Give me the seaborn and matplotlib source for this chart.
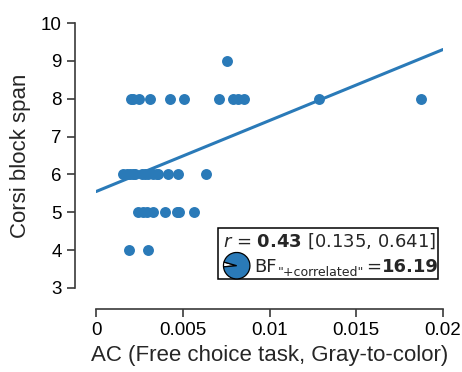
import numpy as np
import pandas as pd
import matplotlib
matplotlib.use("Agg")
import matplotlib.pyplot as plt
import seaborn as sns
from matplotlib.patches import Rectangle

# Datos (AC vs Corsi block span)
ac_span8 = [0.0020, 0.00215, 0.0025, 0.0031, 0.00427, 0.0051, 0.0071, 0.0079,
            0.0082, 0.00853, 0.01288, 0.01875]
ac_span9 = [0.00755]
ac_span6 = [0.00157, 0.00177, 0.00196, 0.00212, 0.00225, 0.00263, 0.00282,
            0.00301, 0.0033, 0.0035, 0.00359, 0.00417, 0.00474, 0.00632]
ac_span5 = [0.00244, 0.00273, 0.00292, 0.0033, 0.00398, 0.00465, 0.0048, 0.00567]
ac_span4 = [0.00192, 0.00301]

x_ticks = [0, 0.005, 0.01, 0.015, 0.02]
x_ticklabels = ["0", "0.005", "0.01", "0.015", "0.02"]
y_ticks = [3, 4, 5, 6, 7, 8, 9, 10]

r_value = 0.43
ci_low, ci_high = 0.135, 0.641
bf_value = 16.19

ac = ac_span8 + ac_span9 + ac_span6 + ac_span5 + ac_span4
corsi = ([8] * len(ac_span8) + [9] * len(ac_span9) + [6] * len(ac_span6)
         + [5] * len(ac_span5) + [4] * len(ac_span4))
df = pd.DataFrame({"ac": ac, "corsi": corsi})
print("r =", np.corrcoef(df["ac"], df["corsi"])[0, 1])

sns.set_style("ticks")
plt.rcParams["font.family"] = ["Liberation Sans", "DejaVu Sans"]
plt.rcParams["mathtext.fontset"] = "dejavusans"

AZUL = "#2a7ab8"
GRIS = "#3a3a3a"
W, H = 462, 372

fig = plt.figure(figsize=(4.62, 3.72), dpi=100)
ax = fig.add_axes([96 / W, 1 - 288 / H, 347 / W, 265 / H])
# limites antes del regplot para que la recta cubra todo el eje x
ax.set_xlim(0, 0.02)
ax.set_ylim(3, 10)

sns.regplot(data=df, x="ac", y="corsi", ax=ax, ci=None, truncate=False,
            scatter_kws={"s": 62, "color": AZUL, "alpha": 1, "linewidths": 0},
            line_kws={"color": AZUL, "lw": 2.2})

ax.set_xlim(0, 0.02)
ax.set_ylim(3, 10)
ax.set_xticks(x_ticks)
ax.set_xticklabels(x_ticklabels)
ax.set_yticks(y_ticks)
ax.tick_params(labelsize=13.5, length=6, width=1.2, color=GRIS, labelcolor="black")
ax.set_xlabel("AC (Free choice task, Gray-to-color)", fontsize=16, labelpad=4)
ax.set_ylabel("Corsi block span", fontsize=16, labelpad=7)
sns.despine(ax=ax, offset=15, trim=True)
for lado in ["left", "bottom"]:
    ax.spines[lado].set_color(GRIS)
    ax.spines[lado].set_linewidth(1.2)

# Recuadro con r y BF
caja = Rectangle((218 / W, 1 - 279 / H), 220 / W, 51 / H,
                 transform=fig.transFigure, facecolor="white",
                 edgecolor="black", linewidth=1.1, zorder=5)
fig.patches.append(caja)
fig.text(223 / W, 1 - 247 / H,
         r"$r$ = $\mathbf{0.43}$ " + f"[{ci_low}, {ci_high}]",
         fontsize=13, family="DejaVu Sans", va="baseline", ha="left", zorder=6)

# BF con subindice armado por partes
renderer = fig.canvas.get_renderer()
base_y = 1 - 272 / H
t_bf = fig.text(254 / W, base_y, "BF", fontsize=13, family="DejaVu Sans",
                va="baseline", ha="left", zorder=6)
x_px = t_bf.get_window_extent(renderer).x1
t_sub = fig.text(x_px / W + 0.002, base_y - 4 / H, '"+correlated"', fontsize=9,
                 family="DejaVu Sans", va="baseline", ha="left", zorder=6)
x_px = t_sub.get_window_extent(renderer).x1
t_eq = fig.text(x_px / W + 0.006, base_y, "=", fontsize=13, family="DejaVu Sans",
                va="baseline", ha="left", zorder=6)
x_px = t_eq.get_window_extent(renderer).x1
fig.text(x_px / W, base_y, f"{bf_value}", fontsize=13, family="DejaVu Sans",
         fontweight="bold", va="baseline", ha="left", zorder=6)

ax_pie = fig.add_axes([(236.7 - 13.5) / W, 1 - (265.7 + 13.5) / H, 27 / W, 27 / H])
p_nula = 1 / (1 + bf_value)
ax_pie.pie([p_nula, 1 - p_nula], colors=["white", AZUL], startangle=164,
           wedgeprops={"edgecolor": "black", "linewidth": 0.9})
ax_pie.set_xlim(-1.02, 1.02)
ax_pie.set_ylim(-1.02, 1.02)
ax_pie.set_aspect("equal")
ax_pie.set_zorder(7)

fig.savefig("out.png", dpi=100)
plt.close()
